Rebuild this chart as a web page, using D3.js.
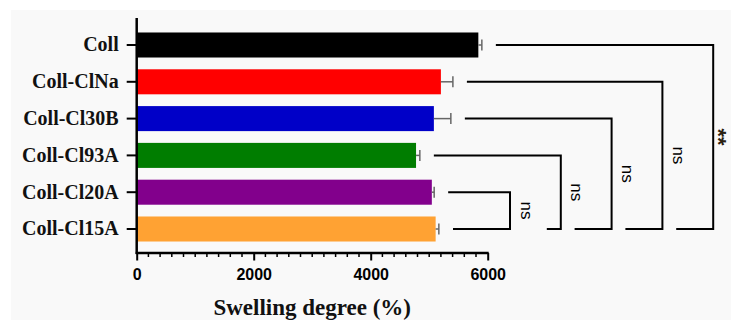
<!DOCTYPE html>
<html>
<head>
<meta charset="utf-8">
<script src="https://cdn.jsdelivr.net/npm/d3@7"></script>
<style>
  body { margin: 0; background: #fff; }
  svg { display: block; }
</style>
</head>
<body>
<script>
// swelling degree bar chart

const categories = ["Coll", "Coll-ClNa", "Coll-Cl30B", "Coll-Cl93A", "Coll-Cl20A", "Coll-Cl15A"];
const swelling = [5840, 5200, 5080, 4775, 5045, 5110];
const swellingErr = [60, 205, 290, 65, 40, 55];
const barColors = ["#000000", "#ff0000", "#0000c8", "#007d00", "#82008c", "#ffa233"];
const xTicks = [0, 2000, 4000, 6000];
// significance brackets: each group compared against Coll-Cl15A
const compareWith = ["Coll", "Coll-ClNa", "Coll-Cl30B", "Coll-Cl93A", "Coll-Cl20A"];
const compareLabels = ["**", "ns", "ns", "ns", "ns"];

const W = 731, H = 320;

const svg = d3.select("body").append("svg")
    .attr("width", W)
    .attr("height", H);

svg.append("rect")
    .attr("x", 11).attr("y", 10)
    .attr("width", W - 11).attr("height", H - 10)
    .attr("fill", "#f9f9f9");

const x = d3.scaleLinear().domain([0, 6000]).range([136.7, 487.7]);
const y = d3.scaleBand().domain(categories).range([26.6, 247.4])
    .paddingInner(0.32).paddingOuter(0.16);
const axisY = 253;

const data = categories.map((c, i) => ({name: c, v: swelling[i], e: swellingErr[i], color: barColors[i]}));

// bars
svg.selectAll("rect.bar")
  .data(data)
  .enter().append("rect")
    .attr("class", "bar")
    .attr("x", x(0))
    .attr("y", d => y(d.name))
    .attr("width", d => x(d.v) - x(0))
    .attr("height", y.bandwidth())
    .attr("fill", d => d.color);

// error bars (one-sided)
const err = svg.selectAll("g.err")
  .data(data)
  .enter().append("g")
    .attr("class", "err")
    .attr("stroke", "#666")
    .attr("stroke-width", 1.5);
err.append("line")
    .attr("x1", d => x(d.v)).attr("x2", d => x(d.v + d.e))
    .attr("y1", d => y(d.name) + y.bandwidth() / 2)
    .attr("y2", d => y(d.name) + y.bandwidth() / 2);
err.append("line")
    .attr("x1", d => x(d.v + d.e)).attr("x2", d => x(d.v + d.e))
    .attr("y1", d => y(d.name) + y.bandwidth() / 2 - 5.5)
    .attr("y2", d => y(d.name) + y.bandwidth() / 2 + 5.5);

// x axis
const xAxis = svg.append("g")
    .attr("transform", "translate(0," + axisY + ")")
    .call(d3.axisBottom(x).tickValues(xTicks).tickSize(7.5).tickPadding(8).tickFormat(d3.format("d")));
xAxis.select(".domain").remove();
xAxis.selectAll(".tick line").attr("stroke", "#000").attr("stroke-width", 2);
xAxis.selectAll(".tick text")
    .attr("fill", "#000")
    .style("font-family", "'Liberation Sans', Arial, sans-serif")
    .style("font-weight", "bold")
    .style("font-size", "16px");

// minor ticks
const minor = d3.range(200, 6000, 200).filter(v => v % 2000 != 0);
svg.selectAll("line.minor")
  .data(minor)
  .enter().append("line")
    .attr("class", "minor")
    .attr("x1", d => x(d)).attr("x2", d => x(d))
    .attr("y1", axisY).attr("y2", axisY + 4)
    .attr("stroke", "#000").attr("stroke-width", 1.5);

svg.append("line")
    .attr("x1", x(0) - 1).attr("x2", x(6000) + 1)
    .attr("y1", axisY).attr("y2", axisY)
    .attr("stroke", "#000").attr("stroke-width", 2.5);

// y axis
const yAxis = svg.append("g")
    .attr("transform", "translate(" + x(0) + ",0)")
    .call(d3.axisLeft(y).tickSize(10).tickPadding(8));
yAxis.select(".domain").remove();
yAxis.selectAll(".tick line").attr("stroke", "#000").attr("stroke-width", 2);
yAxis.selectAll(".tick text")
    .attr("fill", "#111")
    .style("font-family", "'Liberation Serif', 'Times New Roman', serif")
    .style("font-weight", "bold")
    .style("font-size", "20px");

svg.append("line")
    .attr("x1", x(0)).attr("x2", x(0))
    .attr("y1", 18).attr("y2", axisY + 1)
    .attr("stroke", "#000").attr("stroke-width", 2.5);

// axis title
svg.append("text")
    .attr("x", (x(0) + x(6000)) / 2)
    .attr("y", 315)
    .attr("text-anchor", "middle")
    .style("font-family", "'Liberation Serif', 'Times New Roman', serif")
    .style("font-weight", "bold")
    .style("font-size", "23px")
    .attr("fill", "#111")
    .text("Swelling degree (%)");

// significance brackets
const ref = data[data.length - 1];
const refY = y(ref.name) + y.bandwidth() / 2;
const bracketX0 = 510, bracketStep = 50.8;
const tailLen = [57, 14, 37, 37, 37];
const brackets = compareWith.slice().reverse().map((c, i) => {
  const d = data.find(v => v.name == c);
  return {d: d, label: compareLabels[compareLabels.length - 1 - i], bx: bracketX0 + i * bracketStep, tail: tailLen[i]};
});

const br = svg.selectAll("g.bracket")
  .data(brackets)
  .enter().append("g")
    .attr("class", "bracket");
br.append("path")
    .attr("fill", "none")
    .attr("stroke", "#000")
    .attr("stroke-width", 2)
    .attr("d", b => {
      const ty = y(b.d.name) + y.bandwidth() / 2;
      const sx = x(b.d.v + b.d.e) + 14;
      return "M" + sx + "," + ty + "H" + b.bx + "V" + refY + "H" + (b.bx - b.tail);
    });
br.append("text")
    .attr("transform", b => {
      const ty = y(b.d.name) + y.bandwidth() / 2;
      const off = b.label == "**" ? 5 : 16;
      return "translate(" + (b.bx + off) + "," + ((ty + refY) / 2) + ") rotate(90)";
    })
    .attr("text-anchor", "middle")
    .attr("dominant-baseline", "central")
    .style("font-family", "'Liberation Sans', Arial, sans-serif")
    .style("font-size", b => b.label == "**" ? "22px" : "17px")
    .style("font-weight", b => b.label == "**" ? "bold" : "normal")
    .attr("fill", b => b.label == "**" ? "#2a2010" : "#000")
    .text(b => b.label);
</script>
</body>
</html>
